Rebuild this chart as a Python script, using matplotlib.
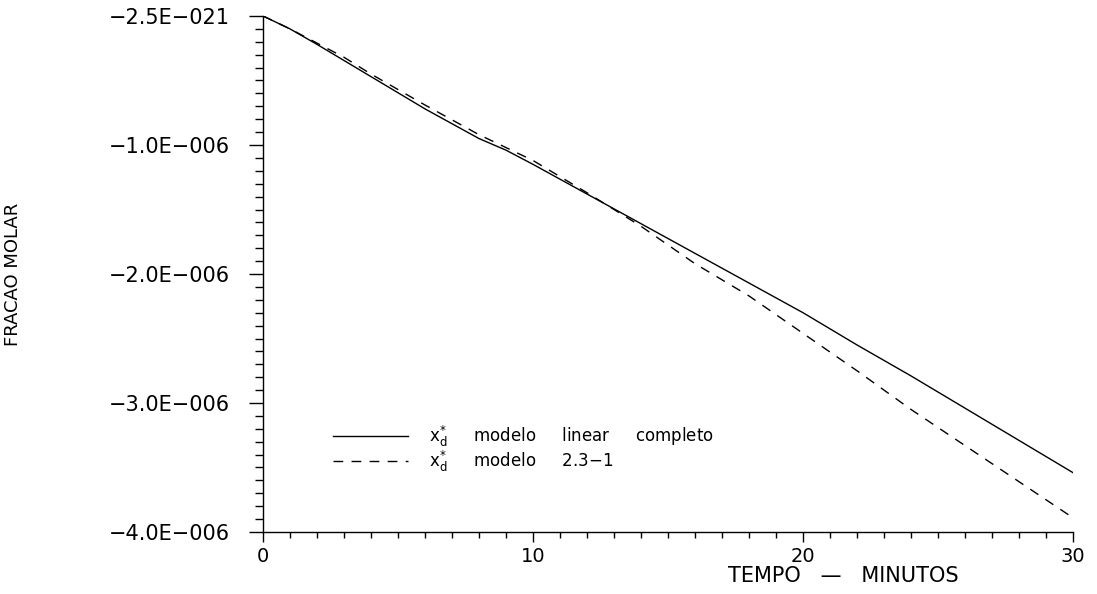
import matplotlib
matplotlib.use("Agg")
import matplotlib.pyplot as plt
from matplotlib.ticker import MultipleLocator, FixedLocator

# ---------------- data ----------------
t_solid = [0, 1, 2, 4, 6, 8, 9, 10, 12, 14, 16, 18, 20, 22, 24, 26, 28, 30]
x_solid = [0.0, -0.10e-6, -0.22e-6, -0.47e-6, -0.72e-6, -0.95e-6, -1.04e-6,
           -1.15e-6, -1.38e-6, -1.61e-6, -1.84e-6, -2.07e-6, -2.30e-6,
           -2.55e-6, -2.79e-6, -3.04e-6, -3.29e-6, -3.54e-6]

t_dash = [0, 1, 2, 3, 4, 6, 8, 10, 12, 14, 16, 18, 20, 22, 24, 26, 28, 30]
x_dash = [0.0, -0.10e-6, -0.21e-6, -0.32e-6, -0.45e-6, -0.69e-6, -0.92e-6,
          -1.12e-6, -1.37e-6, -1.63e-6, -1.92e-6, -2.17e-6, -2.46e-6,
          -2.75e-6, -3.05e-6, -3.33e-6, -3.61e-6, -3.89e-6]

y_ticks = [0.0, -1.0e-6, -2.0e-6, -3.0e-6, -4.0e-6]
y_ticklabels = ["\u22122.5E\u2212021", "\u22121.0E\u2212006", "\u22122.0E\u2212006",
                "\u22123.0E\u2212006", "\u22124.0E\u2212006"]
x_ticks = [0, 10, 20, 30]
x_ticklabels = ["0", "10", "20", "30"]

label_solid = "x$\\mathregular{^{*}_{d}}$     modelo     linear     completo"
label_dash = "x$\\mathregular{^{*}_{d}}$     modelo     2.3\u22121"
xlabel = "TEMPO   \u2014   MINUTOS"
ylabel = "FRACAO MOLAR"

# ---------------- figure ----------------
plt.rcParams['font.family'] = ['DejaVu Sans']
fig = plt.figure(figsize=(10.97, 5.94), dpi=100)
ax = fig.add_axes([263/1097, 1-532/594, 810/1097, 516/594])

ax.plot(t_solid, x_solid, color='black', lw=1.0, label=label_solid)
ld, = ax.plot(t_dash, x_dash, color='black', lw=1.0, label=label_dash)
ld.set_dashes((7, 6))

ax.set_xlim(0, 30)
ax.set_ylim(-4.0e-6, 0.0)

for s in ['top', 'right']:
    ax.spines[s].set_visible(False)
for s in ['left', 'bottom']:
    ax.spines[s].set_linewidth(1.0)

ax.yaxis.set_major_locator(FixedLocator(y_ticks))
ax.set_yticklabels(y_ticklabels)
ax.yaxis.set_minor_locator(MultipleLocator(1e-7))
ax.xaxis.set_major_locator(FixedLocator(x_ticks))
ax.set_xticklabels(x_ticklabels)
ax.xaxis.set_minor_locator(MultipleLocator(1))

ax.tick_params(axis='y', which='major', direction='out', length=10, width=1.0,
               pad=14, labelsize=15)
ax.tick_params(axis='y', which='minor', direction='out', length=5.5, width=1.0)
ax.tick_params(axis='x', which='major', direction='out', length=7, width=1.0,
               pad=4, labelsize=14)
ax.tick_params(axis='x', which='minor', direction='out', length=4.5, width=1.0)

ax.set_xlabel(xlabel, fontsize=15)
ax.xaxis.set_label_coords(0.716, -0.066)
ax.set_ylabel(ylabel, fontsize=13)
ax.yaxis.set_label_coords(-0.298, 0.50)

leg = ax.legend(loc='upper left', bbox_to_anchor=(0.086, 0.21), frameon=False,
                fontsize=12, handlelength=4.5, handletextpad=1.3,
                labelspacing=0.0, borderpad=0, borderaxespad=0)

fig.savefig("out.png", dpi=100, facecolor='white')
